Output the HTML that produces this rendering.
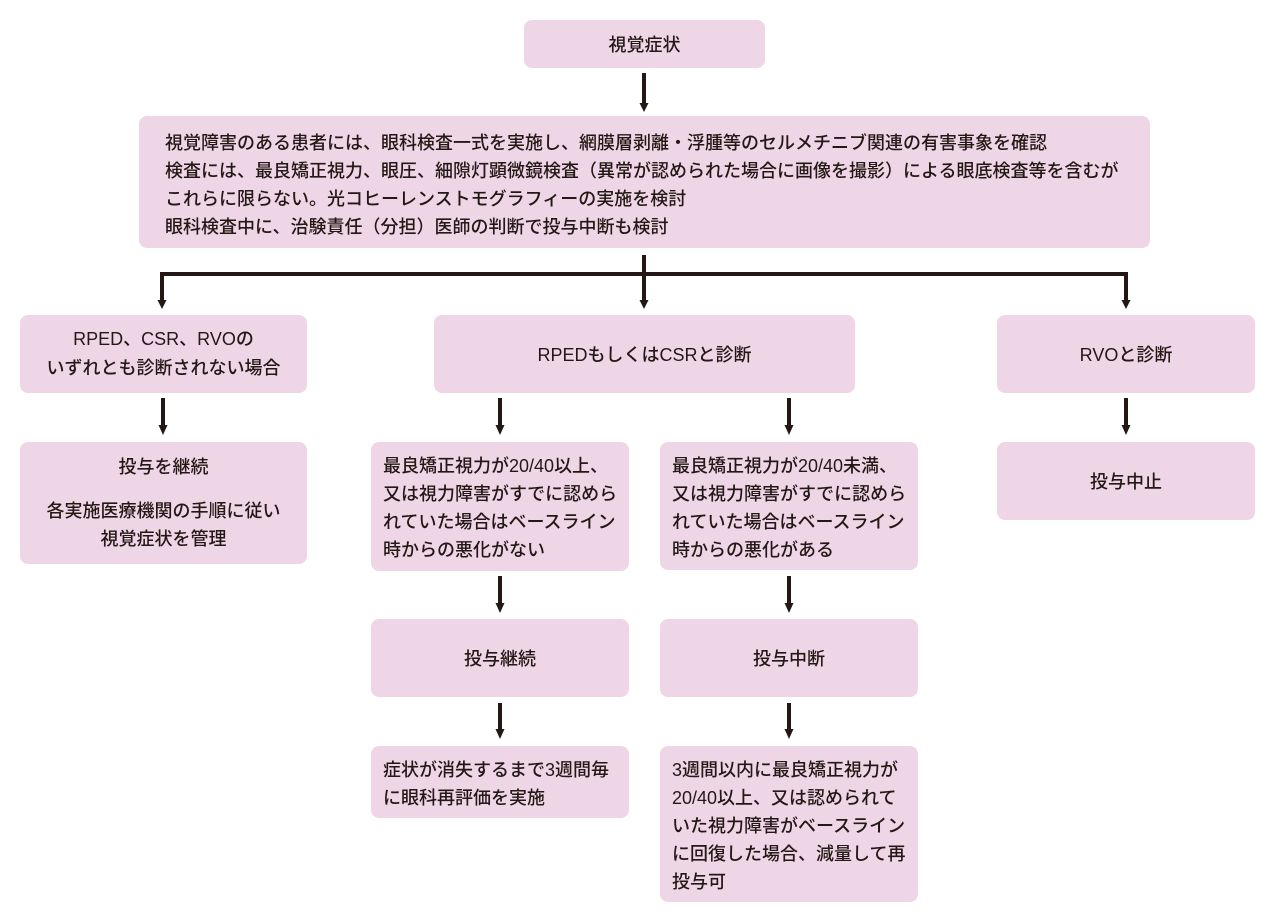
<!DOCTYPE html>
<html lang="ja">
<head>
<meta charset="utf-8">
<style>
  html, body { margin: 0; padding: 0; background: #ffffff; }
  body { width: 1269px; height: 919px; position: relative; overflow: hidden;
    font-family: "Liberation Sans", "Noto Sans CJK JP", sans-serif;
    font-size: 18px; color: #231815; font-weight: 500; }
  .box { position: absolute; background: #EFD6E7; border-radius: 8px; box-sizing: border-box; }
  .c { display: flex; align-items: center; justify-content: center; text-align: center; flex-direction: column; }
  .t { position: absolute; white-space: nowrap; line-height: 28px; }
  svg { position: absolute; left: 0; top: 0; }
</style>
</head>
<body>

<!-- boxes -->
<div class="box c" style="left:524px;top:20px;width:241px;height:48px;">視覚症状</div>

<div class="box" style="left:139px;top:116px;width:1011px;height:132px;"></div>
<div class="t" style="left:165px;top:129px;">視覚障害のある患者には、眼科検査一式を実施し、網膜層剥離・浮腫等のセルメチニブ関連の有害事象を確認<br>検査には、最良矯正視力、眼圧、細隙灯顕微鏡検査（異常が認められた場合に画像を撮影）による眼底検査等を含むが<br>これらに限らない。光コヒーレンストモグラフィーの実施を検討<br>眼科検査中に、治験責任（分担）医師の判断で投与中断も検討</div>

<div class="box c" style="left:20px;top:315px;width:287px;height:78px;line-height:29px;white-space:nowrap;">RPED、CSR、RVOの<br>いずれとも診断されない場合</div>
<div class="box c" style="left:434px;top:315px;width:421px;height:78px;">RPEDもしくはCSRと診断</div>
<div class="box c" style="left:997px;top:315px;width:258px;height:78px;">RVOと診断</div>

<div class="box" style="left:20px;top:442px;width:287px;height:122px;"></div>
<div class="t" style="left:20px;width:287px;text-align:center;top:453px;">投与を継続</div>
<div class="t" style="left:20px;width:287px;text-align:center;top:497px;">各実施医療機関の手順に従い<br>視覚症状を管理</div>

<div class="box" style="left:371px;top:442px;width:258px;height:129px;"></div>
<div class="t" style="left:383px;top:452px;">最良矯正視力が20/40以上、<br>又は視力障害がすでに認めら<br>れていた場合はベースライン<br>時からの悪化がない</div>

<div class="box" style="left:660px;top:442px;width:258px;height:128px;"></div>
<div class="t" style="left:672px;top:452px;">最良矯正視力が20/40未満、<br>又は視力障害がすでに認めら<br>れていた場合はベースライン<br>時からの悪化がある</div>

<div class="box c" style="left:997px;top:442px;width:258px;height:78px;">投与中止</div>

<div class="box c" style="left:371px;top:619px;width:258px;height:78px;">投与継続</div>
<div class="box c" style="left:660px;top:619px;width:258px;height:78px;">投与中断</div>

<div class="box" style="left:371px;top:746px;width:258px;height:72px;"></div>
<div class="t" style="left:383px;top:756px;">症状が消失するまで3週間毎<br>に眼科再評価を実施</div>

<div class="box" style="left:660px;top:746px;width:258px;height:156px;"></div>
<div class="t" style="left:672px;top:756px;">3週間以内に最良矯正視力が<br>20/40以上、又は認められて<br>いた視力障害がベースライン<br>に回復した場合、減量して再<br>投与可</div>

<!-- connectors -->
<svg width="1269" height="919" viewBox="0 0 1269 919">
  <g fill="#231815">
    <!-- top arrow -->
    <rect x="642" y="73" width="4" height="31"/>
    <polygon points="639.5,103 648.5,103 644,112"/>

    <!-- branching -->
    <rect x="642" y="255" width="4" height="21"/>
    <rect x="160" y="272" width="968" height="4"/>
    <rect x="160" y="272" width="4" height="29"/>
    <polygon points="157.5,300 166.5,300 162,309"/>
    <rect x="642" y="272" width="4" height="29"/>
    <polygon points="639.5,300 648.5,300 644,309"/>
    <rect x="1124" y="272" width="4" height="29"/>
    <polygon points="1121.5,300 1130.5,300 1126,309"/>

    <!-- row2 -> row3 -->
    <rect x="161" y="398" width="4" height="28"/>
    <polygon points="158.5,425 167.5,425 163,435"/>
    <rect x="498" y="398" width="4" height="28"/>
    <polygon points="495.5,425 504.5,425 500,435"/>
    <rect x="787" y="398" width="4" height="28"/>
    <polygon points="784.5,425 793.5,425 789,435"/>
    <rect x="1124" y="398" width="4" height="28"/>
    <polygon points="1121.5,425 1130.5,425 1126,435"/>

    <!-- row3 -> row4 -->
    <rect x="498" y="576" width="4" height="28"/>
    <polygon points="495.5,603 504.5,603 500,613"/>
    <rect x="787" y="576" width="4" height="28"/>
    <polygon points="784.5,603 793.5,603 789,613"/>

    <!-- row4 -> row5 -->
    <rect x="498" y="703" width="4" height="27"/>
    <polygon points="495.5,729 504.5,729 500,739"/>
    <rect x="787" y="703" width="4" height="27"/>
    <polygon points="784.5,729 793.5,729 789,739"/>
  </g>
</svg>

</body>
</html>
